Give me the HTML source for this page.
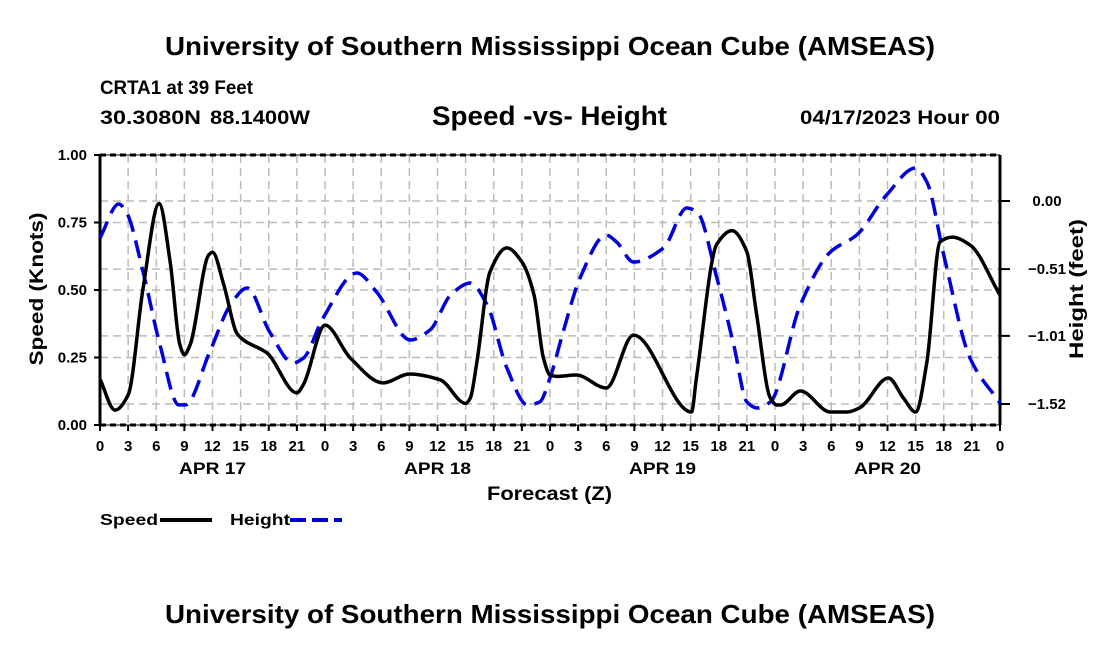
<!DOCTYPE html>
<html><head><meta charset="utf-8"><style>
body{margin:0;background:#fff;width:1100px;height:650px;overflow:hidden}
svg text{font-family:"Liberation Sans",Arial,sans-serif;font-weight:bold;fill:#000}
</style></head><body>
<svg id="chart" width="1100" height="650" xmlns="http://www.w3.org/2000/svg">
<text x="165" y="55" font-size="26" textLength="770" lengthAdjust="spacingAndGlyphs">University of Southern Mississippi Ocean Cube (AMSEAS)</text>
<text x="100" y="94" font-size="19" textLength="153" lengthAdjust="spacingAndGlyphs">CRTA1 at 39 Feet</text>
<text x="100" y="124" font-size="19" textLength="101" lengthAdjust="spacingAndGlyphs">30.3080N</text>
<text x="210" y="124" font-size="19" textLength="100" lengthAdjust="spacingAndGlyphs">88.1400W</text>
<text x="432" y="125" font-size="27" textLength="235" lengthAdjust="spacingAndGlyphs">Speed -vs- Height</text>
<text x="800" y="124" font-size="19" textLength="200" lengthAdjust="spacingAndGlyphs">04/17/2023 Hour 00</text>
<g id="grid"></g><g id="axes"></g><g id="series"></g>
<text x="487" y="500" font-size="19" textLength="125" lengthAdjust="spacingAndGlyphs">Forecast (Z)</text>
<text transform="translate(43,289) rotate(-90)" font-size="19" text-anchor="middle" textLength="153" lengthAdjust="spacingAndGlyphs">Speed (Knots)</text>
<text transform="translate(1083,289) rotate(-90)" font-size="19" text-anchor="middle" textLength="140" lengthAdjust="spacingAndGlyphs">Height (feet)</text>
<g>
<text x="100" y="525" font-size="16" textLength="58" lengthAdjust="spacingAndGlyphs">Speed</text>
<line x1="160" y1="520" x2="212" y2="520" stroke="#000" stroke-width="4"/>
<text x="230" y="525" font-size="16" textLength="60" lengthAdjust="spacingAndGlyphs">Height</text>
<line x1="290" y1="520" x2="342" y2="520" stroke="#0000dd" stroke-width="4" stroke-dasharray="16,6"/>
</g>
<text x="165" y="623" font-size="26" textLength="770" lengthAdjust="spacingAndGlyphs">University of Southern Mississippi Ocean Cube (AMSEAS)</text>
</svg>
<script>
const speedHours=[0,1.6,3,4.6,6.3,7.5,8.5,9,9.6,11.6,12,13.2,14.6,15.3,17.8,21,21.7,24,26.7,30.2,33,36.3,39,39.5,40.2,41.6,43.4,45,46.3,47.3,48,48.7,50.8,54,56.9,63.1,63.6,65.8,67.4,69,70,71.5,72.2,72.6,74.7,77.9,79.7,81,84.1,85.7,87,88.2,89.6,90.9,92.8,96];
const speedValues=[0.17,0.055,0.111,0.508,0.82,0.60,0.30,0.26,0.296,0.63,0.64,0.52,0.34,0.315,0.267,0.119,0.15,0.37,0.248,0.156,0.189,0.167,0.08,0.1,0.233,0.567,0.656,0.604,0.481,0.248,0.185,0.18,0.185,0.137,0.333,0.048,0.17,0.67,0.72,0.641,0.419,0.1,0.074,0.074,0.126,0.048,0.048,0.063,0.174,0.1,0.048,0.233,0.678,0.696,0.667,0.481];
const heightHours=[0,2,2.8,4.6,6.4,8.4,9.1,11.7,13.9,15.7,18.1,20.6,21.7,23.8,27.4,29.5,33.1,35.2,37.4,39.5,41.3,43.4,45.6,46.9,48,49.4,51.2,54,55.1,56.9,60.1,62.6,63.7,65.8,67.6,69,70.1,71.5,74.7,77.9,80.7,83.9,87,88.2,90,92.8,96];
const heightValues=[-0.277,-0.022,-0.082,-0.532,-1.078,-1.527,-1.527,-1.131,-0.779,-0.651,-0.981,-1.213,-1.176,-0.876,-0.539,-0.681,-1.041,-0.966,-0.704,-0.614,-0.779,-1.25,-1.527,-1.505,-1.325,-0.981,-0.577,-0.255,-0.307,-0.457,-0.352,-0.052,-0.082,-0.577,-1.078,-1.505,-1.55,-1.505,-0.779,-0.382,-0.255,0.045,0.247,0.142,-0.404,-1.176,-1.513];
const xTicks=[0,3,6,9,12,15,18,21,0,3,6,9,12,15,18,21,0,3,6,9,12,15,18,21,0,3,6,9,12,15,18,21,0];
const dayLabels=["APR 17","APR 18","APR 19","APR 20"];
const speedTicks=[0,0.25,0.5,0.75,1.0];
const heightTicks=[0.00,-0.51,-1.01,-1.52];
const X0=100,X1=1000,Y0=425,Y1=155;
const xs=h=>X0+(X1-X0)*h/96;
const ys=v=>Y0-(Y0-Y1)*v;
const yh=v=>201-133.55*v;
const NS="http://www.w3.org/2000/svg";
function mk(tag,attrs,parent){const e=document.createElementNS(NS,tag);for(const k in attrs)e.setAttribute(k,attrs[k]);parent.appendChild(e);return e;}
const grid=document.getElementById('grid'),axes=document.getElementById('axes'),series=document.getElementById('series');
xTicks.forEach((t,i)=>{const x=xs(i*3);
 if(i>0&&i<xTicks.length-1){const g=mk('line',{x1:x,y1:Y1,x2:x,y2:Y0,stroke:'#bbb','stroke-width':1.5,'stroke-dasharray':'8,5'},grid);
 
 }
 const tk=mk('line',{x1:x,y1:Y0,x2:x,y2:Y0+6,stroke:'#000','stroke-width':2},axes);
 
 
 const tt=mk('text',{x:x,y:451,'font-size':15,'text-anchor':'middle'},axes);tt.textContent=t;
 
 
});
dayLabels.forEach((d,i)=>{const t=mk('text',{x:xs(i*24+12),y:474,'font-size':17,'text-anchor':'middle',textLength:67,lengthAdjust:'spacingAndGlyphs'},axes);t.textContent=d;
 
 });
speedTicks.forEach(v=>{const y=ys(v);
 if(v>0&&v<1){const g=mk('line',{x1:X0,y1:y,x2:X1,y2:y,stroke:'#bbb','stroke-width':1.5,'stroke-dasharray':'8,5'},grid);
 
 }
 const t=mk('text',{x:87,y:y+5,'font-size':15,'text-anchor':'end'},axes);t.textContent=v.toFixed(2);
 
 
 const tk=mk('line',{x1:X0-6,y1:y,x2:X0,y2:y,stroke:'#000','stroke-width':2},axes);
 
 
});
heightTicks.forEach(v=>{const y=yh(v);
 const g=mk('line',{x1:X0,y1:y,x2:X1,y2:y,stroke:'#bbb','stroke-width':1.5,'stroke-dasharray':'8,5'},grid);
 
 
 const t=mk('text',{x:1047,y:y+5,'font-size':15,'text-anchor':'middle'},axes);t.textContent=v.toFixed(2).replace('-','\u2212');
 
 
 const tk=mk('line',{x1:X1,y1:y,x2:X1+10,y2:y,stroke:'#000','stroke-width':2},axes);
 
 
});
[[X0,Y1,X0,Y0,'left-axis',''],[X1,Y1,X1,Y0,'right-axis',''],[X0,Y1,X1,Y1,'top-axis','6,4'],[X0,Y0,X1,Y0,'bottom-axis','6,4']].forEach(a=>{
 const l=mk('line',{x1:a[0],y1:a[1],x2:a[2],y2:a[3],stroke:'#000','stroke-width':3,'stroke-dasharray':a[5]},axes);
 
 
 if(a[5]){const l2=mk('line',{x1:a[0],y1:a[1],x2:a[2],y2:a[3],stroke:'#000','stroke-width':1},axes);
 
 }
});
function monotone(px){const n=px.length,dx=[],sl=[],m=[];
 for(let i=0;i<n-1;i++){dx[i]=px[i+1][0]-px[i][0];sl[i]=(px[i+1][1]-px[i][1])/dx[i];}
 m[0]=sl[0];m[n-1]=sl[n-2];
 for(let i=1;i<n-1;i++){if(sl[i-1]*sl[i]<=0)m[i]=0;else{const w1=2*dx[i]+dx[i-1],w2=dx[i]+2*dx[i-1];m[i]=(w1+w2)/(w1/sl[i-1]+w2/sl[i]);}}
 let d='M'+px[0][0]+','+px[0][1];
 for(let i=0;i<n-1;i++){const h=dx[i]/3;
 d+=' C'+(px[i][0]+h)+','+(px[i][1]+m[i]*h)+' '+(px[i+1][0]-h)+','+(px[i+1][1]-m[i+1]*h)+' '+px[i+1][0]+','+px[i+1][1];}
 return d;}
const hp=mk('path',{d:monotone(heightHours.map((h,i)=>[xs(h),yh(heightValues[i])])),fill:'none',stroke:'#0000dd','stroke-width':3.5,'stroke-dasharray':'18,9'},series);


const sp=mk('path',{d:monotone(speedHours.map((h,i)=>[xs(h),ys(speedValues[i])])),fill:'none',stroke:'#000','stroke-width':3.5},series);


</script>
</body></html>
